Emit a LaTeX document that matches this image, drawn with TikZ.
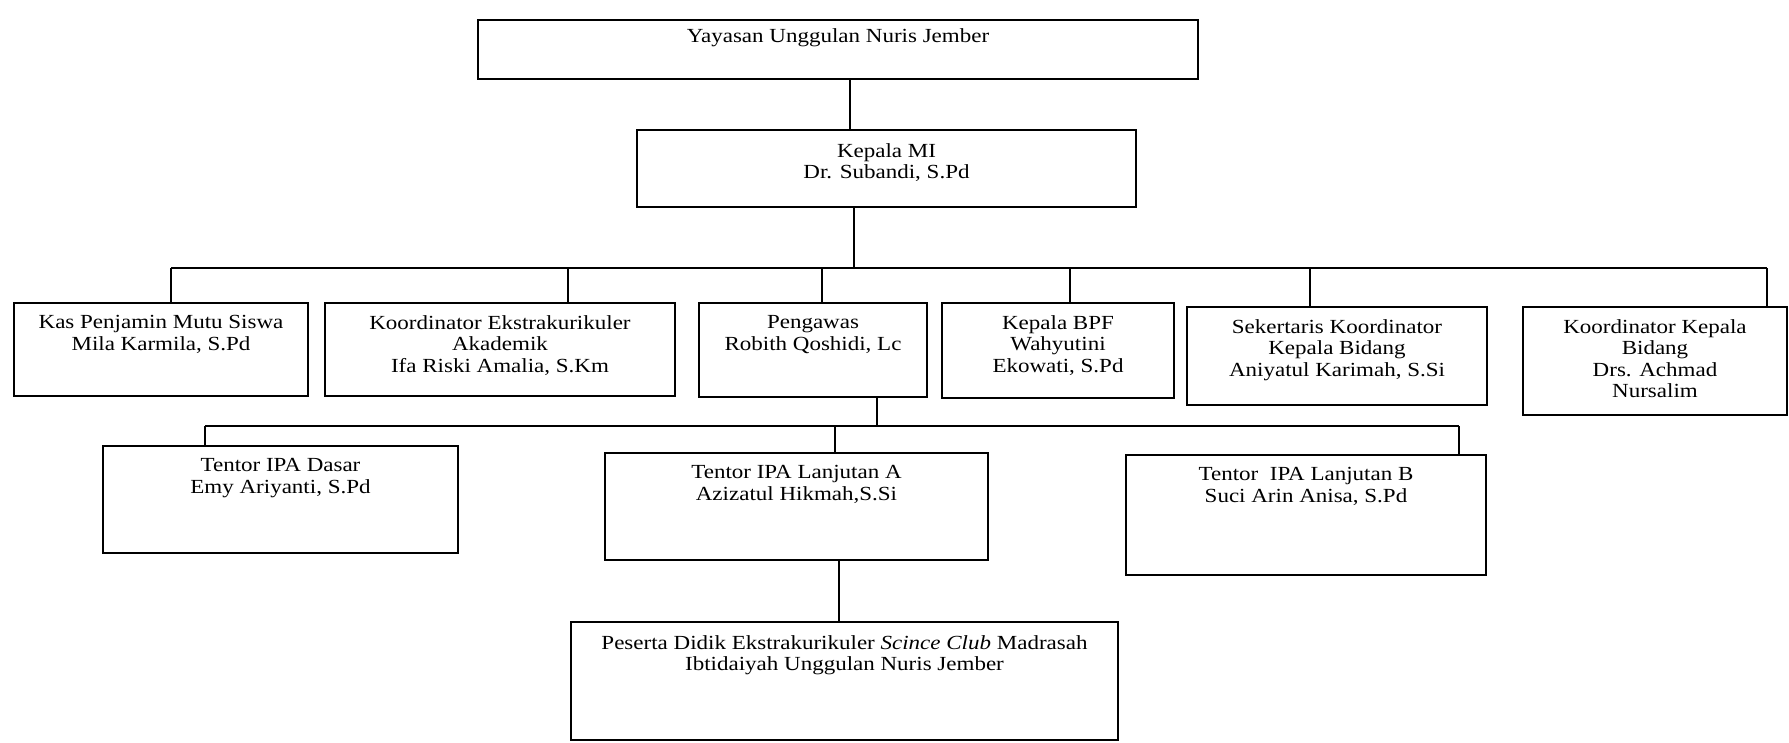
\documentclass[tikz,border=0pt]{standalone}
\usepackage{fontspec}
\setmainfont{Liberation Serif}[FakeStretch=1.15]
\begin{document}
\begin{tikzpicture}[x=1pt,y=-1pt,
  box/.style={draw, line width=1.5pt, inner sep=0pt},
  txt/.style={anchor=north, align=center, inner sep=0pt, font=\fontsize{20}{21.5}\selectfont},
  conn/.style={line width=1.5pt}]
\useasboundingbox[fill=white] (0,0) rectangle (1789,742);
% boxes
\node[box, minimum width=720, minimum height=59] (top) at (838,49.5) {};
\node[box, minimum width=499, minimum height=77] (kmi) at (886.5,168.5) {};
\node[box, minimum width=294, minimum height=93] (kas) at (161,349.5) {};
\node[box, minimum width=350, minimum height=93] (koe) at (500,349.5) {};
\node[box, minimum width=228, minimum height=94] (peng) at (813,350) {};
\node[box, minimum width=232, minimum height=95] (bpf) at (1058,350.5) {};
\node[box, minimum width=300, minimum height=98] (sek) at (1337,356) {};
\node[box, minimum width=264, minimum height=108] (kkb) at (1655,361) {};
\node[box, minimum width=355, minimum height=107] (ipad) at (280.5,499.5) {};
\node[box, minimum width=383, minimum height=107] (ipaa) at (796.5,506.5) {};
\node[box, minimum width=360, minimum height=120] (ipab) at (1306,515) {};
\node[box, minimum width=547, minimum height=118] (pes) at (844.5,681) {};
% texts
\node[txt] (top-t) at ([yshift=-9pt]top.north) {Yayasan Unggulan Nuris Jember};
\node[txt] (kmi-t) at ([yshift=-14pt]kmi.north) {Kepala MI\\Dr. Subandi, S.Pd};
\node[txt] (kas-t) at ([yshift=-13pt]kas.north) {Kas Penjamin Mutu Siswa\\Mila Karmila, S.Pd};
\node[txt] (koe-t) at ([yshift=-13pt]koe.north) {Koordinator Ekstrakurikuler\\Akademik\\Ifa Riski Amalia, S.Km};
\node[txt] (peng-t) at ([yshift=-13pt]peng.north) {Pengawas\\Robith Qoshidi, Lc};
\node[txt] (bpf-t) at ([yshift=-13pt]bpf.north) {Kepala BPF\\Wahyutini\\Ekowati, S.Pd};
\node[txt] (sek-t) at ([yshift=-13pt]sek.north) {Sekertaris Koordinator\\Kepala Bidang\\Aniyatul Karimah, S.Si};
\node[txt] (kkb-t) at ([yshift=-13pt]kkb.north) {Koordinator Kepala\\Bidang\\Drs. Achmad\\Nursalim};
\node[txt] (ipad-t) at ([yshift=-13pt]ipad.north) {Tentor IPA Dasar\\Emy Ariyanti, S.Pd};
\node[txt] (ipaa-t) at ([yshift=-13pt]ipaa.north) {Tentor IPA Lanjutan A\\Azizatul Hikmah,S.Si};
\node[txt] (ipab-t) at ([yshift=-13pt]ipab.north) {Tentor \ IPA Lanjutan B\\Suci Arin Anisa, S.Pd};
\node[txt] (pes-t) at ([yshift=-14pt]pes.north) {Peserta Didik Ekstrakurikuler \textit{Scince Club} Madrasah\\Ibtidaiyah Unggulan Nuris Jember};
% connectors
\coordinate (c1) at (850,0);
\draw[conn] (top.south -| c1) -- (kmi.north -| c1);
\coordinate (bus) at (854,268);
\coordinate (busL) at (171,268);
\coordinate (busR) at (1767,268);
\draw[conn] (kmi.south -| bus) -- (bus);
\draw[conn] (busL) -- (busR);
\draw[conn] (busL) -- (kas.north -| busL);
\coordinate (d2) at (568,268);
\draw[conn] (d2) -- (koe.north -| d2);
\coordinate (d3) at (822,268);
\draw[conn] (d3) -- (peng.north -| d3);
\coordinate (d4) at (1070,268);
\draw[conn] (d4) -- (bpf.north -| d4);
\coordinate (d5) at (1310,268);
\draw[conn] (d5) -- (sek.north -| d5);
\draw[conn] (busR) -- (kkb.north -| busR);
% second bus
\coordinate (bus2) at (877,426);
\coordinate (bus2L) at (205,426);
\coordinate (bus2R) at (1459,426);
\draw[conn] (peng.south -| bus2) -- (bus2);
\draw[conn] (bus2L) -- (bus2R);
\draw[conn] (bus2L) -- (ipad.north -| bus2L);
\coordinate (e2) at (835,426);
\draw[conn] (e2) -- (ipaa.north -| e2);
\draw[conn] (bus2R) -- (ipab.north -| bus2R);
\coordinate (c3) at (839,0);
\draw[conn] (ipaa.south -| c3) -- (pes.north -| c3);
\end{tikzpicture}
\end{document}
